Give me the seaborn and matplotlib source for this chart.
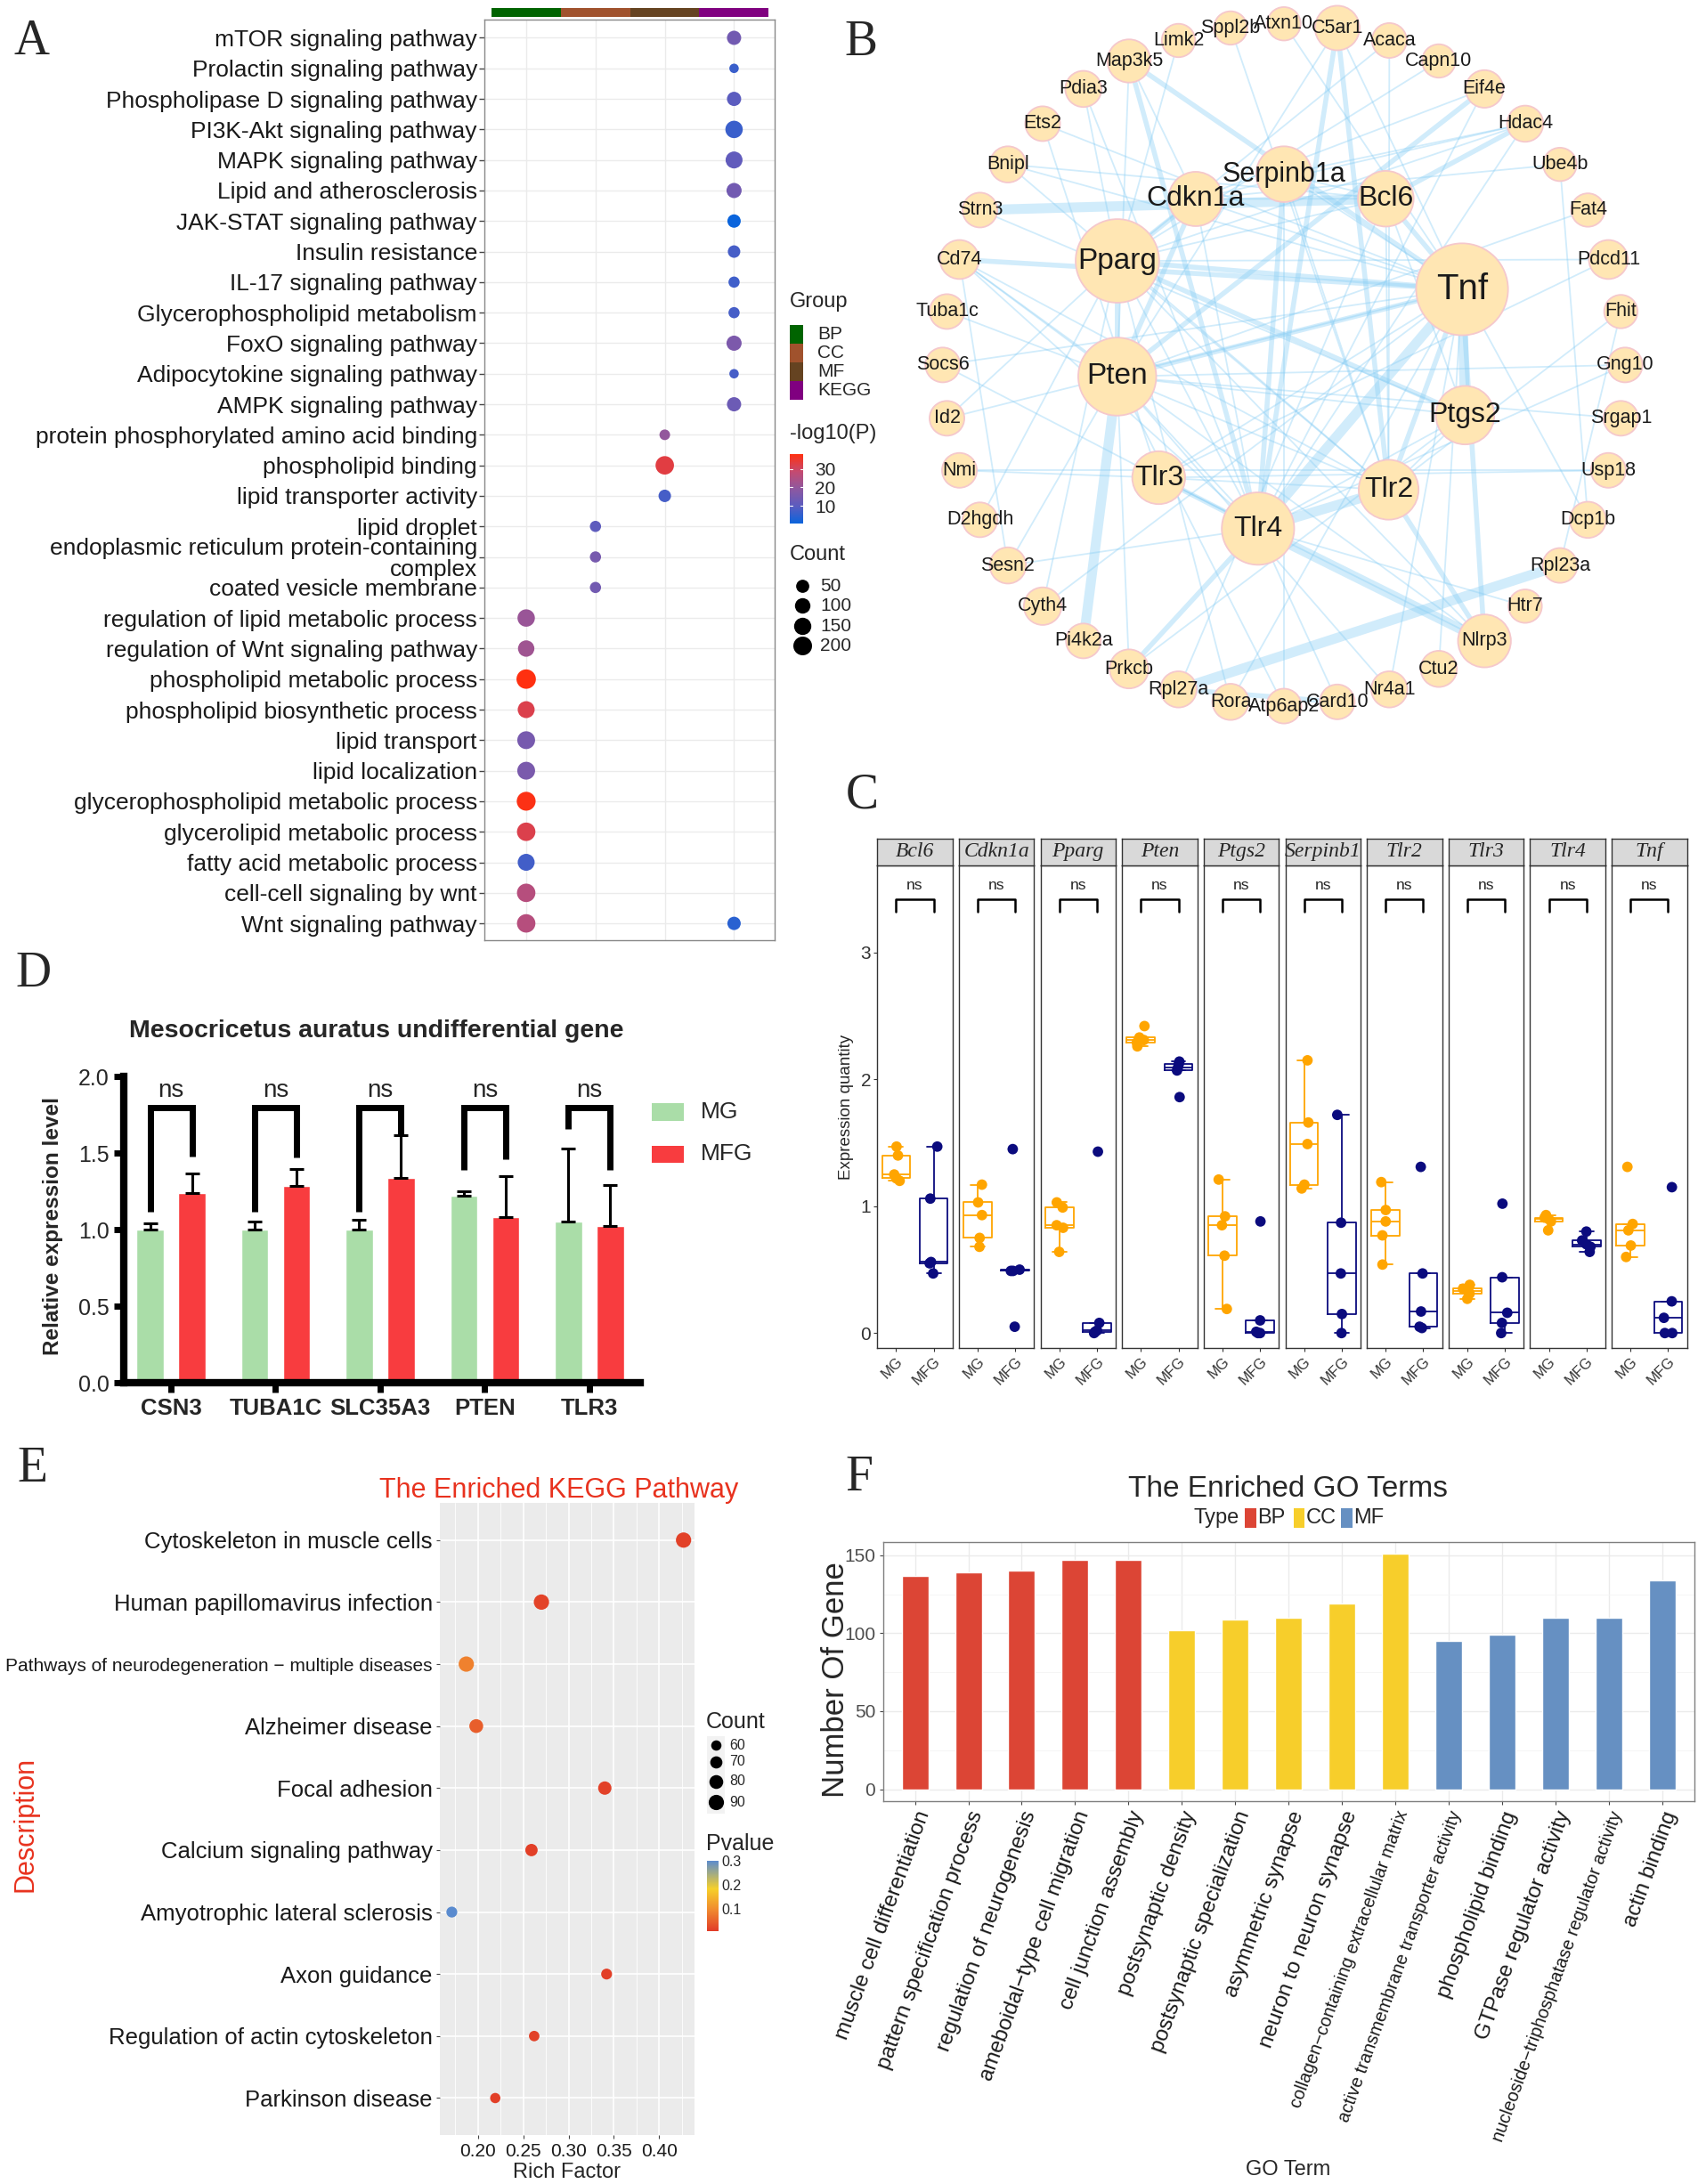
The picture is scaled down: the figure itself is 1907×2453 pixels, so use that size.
import numpy as np
import pandas as pd
import matplotlib
matplotlib.use("Agg")
import matplotlib.pyplot as plt
import seaborn as sns
from matplotlib.colors import LinearSegmentedColormap, Normalize
from matplotlib.patches import Rectangle, Circle
from matplotlib.cm import ScalarMappable

sns.set_theme(style="ticks")
plt.rcParams["font.family"] = ["Liberation Sans", "DejaVu Sans"]
SERIF = ["Liberation Serif", "DejaVu Serif"]

# ---------------- DATA ----------------
# Panel A : enrichment dot plot
a_groups = ["BP", "CC", "MF", "KEGG"]
a_group_colors = ["#006400", "#A0522D", "#654321", "#800080"]
a_terms = [
    "mTOR signaling pathway", "Prolactin signaling pathway", "Phospholipase D signaling pathway",
    "PI3K-Akt signaling pathway", "MAPK signaling pathway", "Lipid and atherosclerosis",
    "JAK-STAT signaling pathway", "Insulin resistance", "IL-17 signaling pathway",
    "Glycerophospholipid metabolism", "FoxO signaling pathway", "Adipocytokine signaling pathway",
    "AMPK signaling pathway",
    "protein phosphorylated amino acid binding", "phospholipid binding", "lipid transporter activity",
    "lipid droplet", "endoplasmic reticulum protein-containing\ncomplex", "coated vesicle membrane",
    "regulation of lipid metabolic process", "regulation of Wnt signaling pathway",
    "phospholipid metabolic process", "phospholipid biosynthetic process", "lipid transport",
    "lipid localization", "glycerophospholipid metabolic process", "glycerolipid metabolic process",
    "fatty acid metabolic process", "cell-cell signaling by wnt", "Wnt signaling pathway",
    "Wnt signaling pathway",
]
a_group = ["KEGG"] * 13 + ["MF"] * 3 + ["CC"] * 3 + ["BP"] * 11 + ["KEGG"]
a_logp = [14, 6, 10, 6, 11, 14, 0.3, 7.5, 6.5, 7.5, 16, 7.5, 13,
          20, 33, 7.5,
          10.5, 15, 14,
          21, 22, 38, 32, 15, 15.5, 37.5, 32, 7, 26, 26,
          4]
a_count = [71, 12, 71, 154, 140, 91, 54, 40, 24, 24, 91, 12, 71,
           19, 190, 40,
           24, 24, 24,
           154, 124, 226, 140, 168, 168, 206, 190, 140, 190, 190,
           54]
a_count_legend = [50, 100, 150, 200]
a_logp_ticks = [10, 20, 30]

# Panel B : PPI network
b_outer = ["Atxn10", "C5ar1", "Acaca", "Capn10", "Eif4e", "Hdac4", "Ube4b", "Fat4", "Pdcd11",
           "Fhit", "Gng10", "Srgap1", "Usp18", "Dcp1b", "Rpl23a", "Htr7", "Nlrp3", "Ctu2",
           "Nr4a1", "Card10", "Atp6ap2", "Rora", "Rpl27a", "Prkcb", "Pi4k2a", "Cyth4", "Sesn2",
           "D2hgdh", "Nmi", "Id2", "Socs6", "Tuba1c", "Cd74", "Strn3", "Bnipl", "Ets2", "Pdia3",
           "Map3k5", "Limk2", "Sppl2b"]
b_outer_size = [12, 16, 12.5, 12, 13.5, 13, 12, 12, 14, 12, 12.5, 12.5, 12.5, 13, 12.5, 12,
                19, 13, 13, 12.5, 12.5, 13, 13, 14, 12.5, 13.5, 13, 12.5, 12.5, 12.5, 12.5, 12.5,
                14, 12.5, 13, 12.5, 13, 15.5, 12, 12]
b_hubs = ["Serpinb1a", "Cdkn1a", "Bcl6", "Pparg", "Tnf", "Pten", "Ptgs2", "Tlr3", "Tlr2", "Tlr4"]
b_hub_size = [20, 19.5, 20, 30, 33, 28, 21, 19, 21.5, 26]
b_hub_font = [22, 23, 23, 24, 29, 24, 23, 23, 23, 23]
b_edges = [
    ("Tnf", "Pparg", 2), ("Tnf", "Pten", 2), ("Tnf", "Tlr4", 3), ("Tnf", "Tlr2", 2), ("Tnf", "Ptgs2", 3),
    ("Tnf", "Bcl6", 2), ("Tnf", "Cdkn1a", 1), ("Tnf", "Tlr3", 1), ("Tnf", "Serpinb1a", 1),
    ("Pparg", "Pten", 2), ("Pparg", "Ptgs2", 2), ("Pparg", "Tlr4", 1), ("Pparg", "Cdkn1a", 2),
    ("Pparg", "Bcl6", 1), ("Pparg", "Tlr2", 1), ("Pten", "Cdkn1a", 2), ("Pten", "Tlr4", 1),
    ("Pten", "Ptgs2", 1), ("Pten", "Tlr2", 1), ("Tlr4", "Tlr2", 3), ("Tlr4", "Tlr3", 2),
    ("Tlr2", "Tlr3", 1), ("Tlr4", "Ptgs2", 1), ("Tlr2", "Ptgs2", 1), ("Cdkn1a", "Bcl6", 1),
    ("Serpinb1a", "Bcl6", 1), ("Serpinb1a", "Tlr4", 2), ("Serpinb1a", "Tlr2", 1), ("Cdkn1a", "Tlr4", 1),
    ("Bcl6", "Tlr2", 1), ("Bcl6", "Ptgs2", 1),
    ("Map3k5", "Tlr4", 2), ("Map3k5", "Pten", 1), ("Map3k5", "Tnf", 2), ("Map3k5", "Cdkn1a", 1),
    ("C5ar1", "Tlr4", 2), ("C5ar1", "Tlr2", 2), ("C5ar1", "Tnf", 1), ("C5ar1", "Pten", 1),
    ("Atxn10", "Tnf", 1), ("Sppl2b", "Tlr2", 1), ("Limk2", "Pparg", 1), ("Acaca", "Pparg", 1),
    ("Acaca", "Tlr2", 1), ("Capn10", "Pparg", 1), ("Eif4e", "Pten", 2), ("Eif4e", "Cdkn1a", 1),
    ("Eif4e", "Tlr4", 1), ("Hdac4", "Pparg", 1), ("Hdac4", "Bcl6", 2), ("Hdac4", "Cdkn1a", 1),
    ("Hdac4", "Serpinb1a", 1), ("Hdac4", "Tlr4", 1), ("Ube4b", "Cdkn1a", 1), ("Ube4b", "Dcp1b", 1),
    ("Fat4", "Pten", 1), ("Pdcd11", "Pparg", 1), ("Pdcd11", "Tlr3", 1), ("Fhit", "Tlr2", 1),
    ("Fhit", "Rpl23a", 1), ("Gng10", "Tlr4", 1), ("Gng10", "Pten", 1), ("Srgap1", "Pten", 1),
    ("Usp18", "Nmi", 1), ("Usp18", "Tlr3", 1), ("Dcp1b", "Tnf", 1), ("Rpl23a", "Rpl27a", 3),
    ("Htr7", "Tlr4", 1), ("Nlrp3", "Tlr4", 3), ("Nlrp3", "Tlr2", 2), ("Nlrp3", "Tnf", 2),
    ("Nlrp3", "Pparg", 1), ("Nlrp3", "Tlr3", 1), ("Nlrp3", "Cd74", 1), ("Ctu2", "Tnf", 1),
    ("Nr4a1", "Tnf", 1), ("Nr4a1", "Pten", 1), ("Card10", "Tlr4", 1), ("Card10", "Rpl27a", 2),
    ("Atp6ap2", "Serpinb1a", 1), ("Atp6ap2", "Pten", 1), ("Rora", "Tnf", 1), ("Rora", "Pparg", 1),
    ("Rpl27a", "Bcl6", 1), ("Prkcb", "Tlr4", 2), ("Prkcb", "Pten", 1), ("Prkcb", "Ptgs2", 1),
    ("Pi4k2a", "Pten", 3), ("Cyth4", "Pparg", 1), ("Cyth4", "Tnf", 1), ("Sesn2", "Pten", 1),
    ("Sesn2", "Cd74", 1), ("Sesn2", "Tlr4", 1), ("D2hgdh", "Pparg", 1), ("Nmi", "Tlr3", 1),
    ("Id2", "Pparg", 1), ("Id2", "Tnf", 1), ("Socs6", "Tnf", 1), ("Socs6", "Tlr4", 1),
    ("Tuba1c", "Pten", 1), ("Cd74", "Tnf", 2), ("Cd74", "Pten", 1), ("Cd74", "Tlr4", 1),
    ("Cd74", "Tlr2", 1), ("Strn3", "Bcl6", 3), ("Strn3", "Ptgs2", 1), ("Bnipl", "Tnf", 1),
    ("Bnipl", "Bcl6", 1), ("Bnipl", "Tlr2", 1), ("Ets2", "Tlr3", 1), ("Ets2", "Tnf", 1),
    ("Pdia3", "Tlr4", 1), ("Pdia3", "Pparg", 1),
]

# Panel C : expression boxplots
c_genes = ["Bcl6", "Cdkn1a", "Pparg", "Pten", "Ptgs2", "Serpinb1", "Tlr2", "Tlr3", "Tlr4", "Tnf"]
c_groups = ["MG", "MFG"]
c_mg = [[1.47, 1.40, 1.25, 1.22, 1.20],
        [1.17, 1.03, 0.93, 0.75, 0.68],
        [1.03, 0.99, 0.85, 0.83, 0.64],
        [2.42, 2.33, 2.31, 2.29, 2.26],
        [1.21, 0.92, 0.85, 0.61, 0.19],
        [2.15, 1.66, 1.49, 1.17, 1.14],
        [1.19, 0.97, 0.88, 0.77, 0.54],
        [0.38, 0.35, 0.33, 0.31, 0.27],
        [0.93, 0.91, 0.90, 0.88, 0.81],
        [1.31, 0.86, 0.81, 0.69, 0.60]]
c_mfg = [[1.47, 1.06, 0.56, 0.55, 0.47],
         [1.45, 0.50, 0.49, 0.49, 0.05],
         [1.43, 0.08, 0.02, 0.01, 0.00],
         [2.14, 2.12, 2.09, 2.07, 1.86],
         [0.88, 0.10, 0.01, 0.00, 0.00],
         [1.72, 0.87, 0.47, 0.15, 0.00],
         [1.31, 0.47, 0.17, 0.05, 0.04],
         [1.02, 0.44, 0.16, 0.08, 0.00],
         [0.80, 0.73, 0.70, 0.68, 0.64],
         [1.15, 0.25, 0.12, 0.00, 0.00]]
c_yticks = [0, 1, 2, 3]

# Panel D : qPCR bars
d_genes = ["CSN3", "TUBA1C", "SLC35A3", "PTEN", "TLR3"]
d_mg = [1.00, 1.00, 1.00, 1.225, 1.055]
d_mg_sd = [0.04, 0.055, 0.065, 0.025, 0.475]
d_mfg = [1.24, 1.285, 1.34, 1.085, 1.025]
d_mfg_sd = [0.13, 0.115, 0.28, 0.265, 0.27]
d_leg_mg = [1.12, 1.12, 1.12, 1.39, 1.66]
d_leg_mfg = [1.48, 1.47, 1.62, 1.46, 1.39]
d_bracket_top = 1.80
d_yticks = [0.0, 0.5, 1.0, 1.5, 2.0]

# Panel E : KEGG dot plot
e_terms = ["Cytoskeleton in muscle cells", "Human papillomavirus infection",
           "Pathways of neurodegeneration \u2212 multiple diseases", "Alzheimer disease",
           "Focal adhesion", "Calcium signaling pathway", "Amyotrophic lateral sclerosis",
           "Axon guidance", "Regulation of actin cytoskeleton", "Parkinson disease"]
e_rich = [0.427, 0.270, 0.187, 0.198, 0.340, 0.259, 0.171, 0.342, 0.262, 0.219]
e_count = [97, 95, 90, 80, 77, 71, 63, 63, 61, 55]
e_pvalue = [0.012, 0.015, 0.085, 0.045, 0.012, 0.010, 0.300, 0.010, 0.012, 0.010]
e_count_legend = [60, 70, 80, 90]
e_xticks = [0.20, 0.25, 0.30, 0.35, 0.40]

# Panel F : GO bar chart
f_terms = ["muscle cell differentiation", "pattern specification process", "regulation of neurogenesis",
           "ameboidal\u2212type cell migration", "cell junction assembly", "postsynaptic density",
           "postsynaptic specialization", "asymmetric synapse", "neuron to neuron synapse",
           "collagen\u2212containing extracellular matrix", "active transmembrane transporter activity",
           "phospholipid binding", "GTPase regulator activity",
           "nucleoside\u2212triphosphatase regulator activity", "actin binding"]
f_type = ["BP"] * 5 + ["CC"] * 5 + ["MF"] * 5
f_count = [137, 139, 140, 147, 147, 102, 109, 110, 119, 151, 95, 99, 110, 110, 134]
f_colors = {"BP": "#DC4535", "CC": "#F7CE2B", "MF": "#6690C2"}

# ---------------- FIGURE ----------------
W, H = 1220.0, 1568.0
fig = plt.figure(figsize=(19.08, 24.53), dpi=100)
fig.patch.set_facecolor("white")


def ax_at(x0, y0, x1, y1):
    return fig.add_axes([x0 / W, 1 - y1 / H, (x1 - x0) / W, (y1 - y0) / H])


def ftext(x, y, s, **kw):
    return fig.text(x / W, 1 - y / H, s, **kw)


def frect(x0, y0, x1, y1, **kw):
    fig.add_artist(Rectangle((x0 / W, 1 - y1 / H), (x1 - x0) / W, (y1 - y0) / H,
                             transform=fig.transFigure, **kw))


for L, x, y in [("A", 23, 30), ("B", 618, 31), ("C", 619, 571), ("D", 24, 699), ("E", 23, 1055), ("F", 617, 1061)]:
    ftext(x, y, L, family=SERIF, fontsize=40, ha="center", va="center")

# ---------- Panel A ----------
cmapA = LinearSegmentedColormap.from_list("a", ["#0a64dc", "#5a5cc0", "#8e58a0", "#c54a70", "#ff3010"])
normA = Normalize(0.3, 38)


def a_size(c):
    d = 9.4 + 12.5 * np.sqrt(max(c - 10, 0) / 220.0)
    return (d * 0.72) ** 2


dfA = pd.DataFrame({"term": a_terms, "group": a_group, "logp": a_logp, "count": a_count})
rowsA = list(pd.unique(dfA["term"]))
dfA["row"] = dfA["term"].map({t: i for i, t in enumerate(rowsA)})
dfA["col"] = dfA["group"].map({g: i for i, g in enumerate(a_groups)})
axA = ax_at(348, 14, 556, 675)
for i in range(len(rowsA)):
    axA.axhline(i, color="#EBEBEB", lw=1.0, zorder=0)
for j in range(4):
    axA.axvline(j, color="#EBEBEB", lw=1.0, zorder=0)
sns.scatterplot(data=dfA, x="col", y="row", hue="logp", size="count", palette=cmapA, hue_norm=normA,
                sizes={c: a_size(c) for c in set(a_count)}, legend=False, linewidth=0, ax=axA, zorder=3)
axA.set_xlim(-0.6, 3.58)
axA.set_ylim(29.55, -0.6)
axA.set_xticks([])
axA.set_yticks(range(len(rowsA)))
axA.set_yticklabels(rowsA, fontsize=19, color="#1A1A1A")
for lab in axA.get_yticklabels():
    lab.set_linespacing(1.0)
axA.tick_params(axis="y", length=4, width=1, color="#444444", pad=2)
axA.set_xlabel("")
axA.set_ylabel("")
for s in axA.spines.values():
    s.set_color("#888888")
    s.set_linewidth(1.0)

axS = ax_at(348, 6, 556, 12)
axS.bar(range(4), [1] * 4, width=1.0, color=a_group_colors, linewidth=0)
axS.set_xlim(-0.6, 3.58)
axS.set_ylim(0, 1)
axS.axis("off")

ftext(567, 217, "Group", fontsize=17, va="center")
for k, (g, col) in enumerate(zip(a_groups, a_group_colors)):
    yc = 240 + 13.5 * k
    frect(567, yc - 6.75, 577, yc + 6.75, color=col, lw=0)
    ftext(587, yc, g, fontsize=15, va="center")
ftext(567, 311, "-log10(P)", fontsize=17, va="center")
caxA = ax_at(567, 326, 577, 376)
cbA = fig.colorbar(ScalarMappable(norm=normA, cmap=cmapA), cax=caxA, ticks=a_logp_ticks)
cbA.outline.set_visible(False)
caxA.tick_params(length=0, labelsize=15, pad=9)
for v in a_logp_ticks:
    caxA.plot([0, 0.2], [v, v], color="white", lw=0.8, transform=caxA.get_yaxis_transform())
    caxA.plot([0.8, 1.0], [v, v], color="white", lw=0.8, transform=caxA.get_yaxis_transform())
ftext(567, 398.5, "Count", fontsize=17, va="center")
axAl = ax_at(560, 410, 640, 472)
axAl.set_xlim(560, 640)
axAl.set_ylim(472, 410)
axAl.axis("off")
for c, yy in zip(a_count_legend, [420.7, 434.8, 449.6, 463.5]):
    axAl.scatter([576], [yy], s=a_size(c), color="black", linewidth=0)
    ftext(589, yy, str(c), fontsize=15, va="center")

# ---------- Panel B ----------
axB = ax_at(640, 0, 1210, 525)
axB.set_xlim(640, 1210)
axB.set_ylim(525, 0)
axB.set_aspect("equal")
axB.axis("off")
cx, cy, R = 922.0, 262.0, 245.0
hub_angle = [90, 118, 58.5, 148, 23, 184, -15.5, 222, 310, 261]
hub_rad = [137, 135, 140, 141, 139, 120, 135, 121, 117, 119]
pos, rad, fsz = {}, {}, {}
for k, n in enumerate(b_outer):
    a = np.deg2rad(90 - 9 * k)
    pos[n] = (cx + R * np.cos(a), cy - R * np.sin(a))
    rad[n] = b_outer_size[k]
    fsz[n] = 15.5
for n, a, r, s, f in zip(b_hubs, hub_angle, hub_rad, b_hub_size, b_hub_font):
    pos[n] = (cx + r * np.cos(np.deg2rad(a)), cy - r * np.sin(np.deg2rad(a)))
    rad[n] = s
    fsz[n] = f
ew = {1: 1.3, 2: 4.0, 3: 8.0}
for u, v, w in b_edges:
    axB.plot([pos[u][0], pos[v][0]], [pos[u][1], pos[v][1]], color="#87CDF5", alpha=0.38,
             lw=ew[w], solid_capstyle="butt", zorder=1)
for n in list(b_outer) + list(b_hubs):
    axB.add_patch(Circle(pos[n], rad[n], facecolor="#FFE6B3", edgecolor="#F5C8CC", lw=1.3, zorder=2))
    axB.text(pos[n][0], pos[n][1], n, fontsize=fsz[n], ha="center", va="center", color="#1A1A1A", zorder=3)

# ---------- Panel C ----------
pal_c = {"MG": "#FFA500", "MFG": "#0B0B7E"}
for i, g in enumerate(c_genes):
    x0 = 630 + i * 58.6
    ax = ax_at(x0, 621, x0 + 54, 968)
    dfc = pd.DataFrame({"grp": ["MG"] * len(c_mg[i]) + ["MFG"] * len(c_mfg[i]),
                        "val": c_mg[i] + c_mfg[i]})
    sns.boxplot(data=dfc, x="grp", y="val", hue="grp", order=c_groups, hue_order=c_groups,
                palette=pal_c, fill=False, width=0.75, showfliers=False, linewidth=1.3,
                saturation=1, legend=False, ax=ax)
    np.random.seed(i + 3)
    sns.stripplot(data=dfc, x="grp", y="val", hue="grp", order=c_groups, hue_order=c_groups,
                  palette=pal_c, jitter=0.12, size=8.5, linewidth=0, legend=False, ax=ax, zorder=4)
    ax.set_xlim(-0.5, 1.5)
    ax.set_ylim(-0.12, 3.69)
    ax.plot([0, 0, 1, 1], [3.32, 3.42, 3.42, 3.32], color="black", lw=1.8)
    ax.text(0.5, 3.53, "ns", ha="center", va="center", fontsize=12.5)
    ax.set_xlabel("")
    ax.set_ylabel("")
    ax.set_xticks([0, 1])
    ax.set_xticklabels(c_groups, rotation=45, ha="right", rotation_mode="anchor", fontsize=12, color="#333333")
    ax.tick_params(axis="x", length=3, width=0.8, pad=2, color="#333333")
    if i == 0:
        ax.set_yticks(c_yticks)
        ax.set_yticklabels([str(t) for t in c_yticks], fontsize=15, color="#333333")
        ax.tick_params(axis="y", length=3, width=0.8, pad=2, color="#333333")
    else:
        ax.set_yticks([])
    for s in ax.spines.values():
        s.set_color("#333333")
        s.set_linewidth(1.0)
    axs = ax_at(x0, 602, x0 + 54, 621)
    axs.set_facecolor("#D9D9D9")
    axs.set_xticks([])
    axs.set_yticks([])
    for s in axs.spines.values():
        s.set_color("#333333")
        s.set_linewidth(1.0)
    axs.text(0.5, 0.5, g, transform=axs.transAxes, ha="center", va="center", fontsize=17,
             style="italic", family=SERIF)
ftext(608, 795, "Expression quantity", rotation=90, fontsize=13.5, ha="center", va="center")

# ---------- Panel D ----------
axD = ax_at(89, 773, 460, 993)
dfD = pd.DataFrame({"gene": d_genes * 2, "group": ["MG"] * 5 + ["MFG"] * 5, "val": d_mg + d_mfg})
sns.barplot(data=dfD, x="gene", y="val", hue="group", order=d_genes, hue_order=["MG", "MFG"],
            palette={"MG": "#AADDA8", "MFG": "#F83C3F"}, width=0.8, gap=0.35, errorbar=None,
            saturation=1, legend=False, ax=axD)
xs = np.arange(len(d_genes))
axD.errorbar(xs - 0.2, d_mg, yerr=[np.zeros(5), d_mg_sd], fmt="none", ecolor="black",
             elinewidth=2.2, capsize=6, capthick=2.2)
axD.errorbar(xs + 0.2, d_mfg, yerr=[np.zeros(5), d_mfg_sd], fmt="none", ecolor="black",
             elinewidth=2.2, capsize=6, capthick=2.2)
for i in range(len(d_genes)):
    axD.plot([i - 0.2, i - 0.2, i + 0.2, i + 0.2], [d_leg_mg[i], d_bracket_top, d_bracket_top, d_leg_mfg[i]],
             color="black", lw=5, solid_joinstyle="miter", solid_capstyle="butt")
    axD.text(i, 1.91, "ns", ha="center", va="center", fontsize=20)
axD.set_xlim(-0.45, 4.49)
axD.set_ylim(0, 2.0)
axD.set_yticks(d_yticks)
axD.set_yticklabels(["%.1f" % t for t in d_yticks], fontsize=18)
axD.set_xticks(xs)
axD.set_xticklabels(d_genes, fontsize=18.5, fontweight="bold")
axD.tick_params(axis="both", width=5, length=8, color="black", pad=4)
axD.set_xlabel("")
axD.set_ylabel("")
sns.despine(ax=axD)
for s in ["left", "bottom"]:
    axD.spines[s].set_linewidth(6)
    axD.spines[s].set_color("black")
ftext(270, 740, "Mesocricetus auratus undifferential gene", fontsize=20.5, fontweight="bold", ha="center", va="center")
ftext(38, 880, "Relative expression level", fontsize=17.5, fontweight="bold", rotation=90, ha="center", va="center")
frect(468, 792, 491, 805, color="#AADDA8", lw=0)
frect(468, 822.5, 491, 835, color="#F83C3F", lw=0)
ftext(503, 798.5, "MG", fontsize=19, va="center")
ftext(503, 828.6, "MFG", fontsize=19, va="center")

# ---------- Panel E ----------
cmapE = LinearSegmentedColormap.from_list("e", [(0, "#E13B27"), (0.3, "#F0892F"), (0.6, "#F6D02A"), (1.0, "#5A8BCF")])
normE = Normalize(0.005, 0.30)
axE = ax_at(316, 1079, 499, 1533)
axE.set_facecolor("#EBEBEB")
dfE = pd.DataFrame({"term": e_terms, "rich": e_rich, "count": e_count, "p": e_pvalue})
dfE["row"] = np.arange(len(e_terms))
for t in e_xticks:
    axE.axvline(t, color="white", lw=1.2, zorder=0)
for t in np.arange(0.175, 0.44, 0.05):
    axE.axvline(t, color="white", lw=0.6, zorder=0)
for r in range(len(e_terms)):
    axE.axhline(r, color="white", lw=1.2, zorder=0)
sns.scatterplot(data=dfE, x="rich", y="row", hue="p", size="count", palette=cmapE, hue_norm=normE,
                sizes=(69, 153), size_norm=(60, 90), legend=False, linewidth=0, ax=axE, zorder=3)
axE.set_xlim(0.158, 0.4395)
axE.set_ylim(len(e_terms) - 0.4, -0.6)
axE.set_yticks(range(len(e_terms)))
axE.set_yticklabels(e_terms, fontsize=18.5, color="#1A1A1A")
for lab in axE.get_yticklabels():
    if len(lab.get_text()) > 40:
        lab.set_fontsize(15)
axE.set_xticks(e_xticks)
axE.set_xticklabels(["%.2f" % t for t in e_xticks], fontsize=15, color="#1A1A1A")
axE.tick_params(axis="both", length=3, width=0.8, color="#444444", pad=3)
axE.set_xlabel("")
axE.set_ylabel("")
for s in axE.spines.values():
    s.set_visible(False)
ftext(401, 1070, "The Enriched KEGG Pathway", fontsize=22, color="#E8321E", ha="center", va="center")
ftext(18, 1310, "Description", fontsize=22, color="#E8321E", rotation=90, ha="center", va="center")
ftext(407, 1560, "Rich Factor", fontsize=17, ha="center", va="center")
ftext(507, 1236, "Count", fontsize=18, va="center")
axEl = ax_at(500, 1245, 545, 1305)
axEl.set_xlim(500, 545)
axEl.set_ylim(1305, 1245)
axEl.axis("off")
axEl.add_patch(Rectangle((507.6, 1246.7), 12.8, 55.3, color="#F2F2F2", lw=0, zorder=0))
for c, yy in zip(e_count_legend, [1253, 1265, 1279, 1294]):
    axEl.scatter([514], [yy], s=69 + (c - 60) / 30.0 * 84, color="black", linewidth=0, zorder=2)
    ftext(524, yy, str(c), fontsize=11.5, va="center")
ftext(507, 1324, "Pvalue", fontsize=18, va="center")
caxE = ax_at(507.6, 1335.7, 515.7, 1386.6)
cbE = fig.colorbar(ScalarMappable(norm=normE, cmap=cmapE), cax=caxE, ticks=[0.1, 0.2, 0.3])
cbE.outline.set_visible(False)
caxE.set_yticklabels(["0.1", "0.2", "0.3"])
caxE.tick_params(length=0, labelsize=11.5, pad=3)

# ---------- Panel F ----------
axF = ax_at(634, 1107, 1217, 1293)
dfF = pd.DataFrame({"term": f_terms, "type": f_type, "n": f_count})
axF.set_axisbelow(True)
for t in range(len(f_terms)):
    axF.axvline(t, color="#EBEBEB", lw=1.0, zorder=0)
for t in [0, 50, 100, 150]:
    axF.axhline(t, color="#EBEBEB", lw=1.0, zorder=0)
for t in [25, 75, 125]:
    axF.axhline(t, color="#F4F4F4", lw=0.6, zorder=0)
sns.barplot(data=dfF, x="term", y="n", hue="type", order=f_terms, hue_order=["BP", "CC", "MF"],
            palette=f_colors, dodge=False, width=0.5, saturation=1, legend=False, ax=axF, zorder=2)
axF.set_xlim(-0.6, 14.6)
axF.set_ylim(-7.55, 158.6)
axF.set_yticks([0, 50, 100, 150])
axF.set_yticklabels(["0", "50", "100", "150"], fontsize=15, color="#4D4D4D")
axF.set_xticks(range(len(f_terms)))
axF.set_xticklabels(f_terms, rotation=70, ha="right", rotation_mode="anchor", color="#1A1A1A")
for lab in axF.get_xticklabels():
    lab.set_fontsize(14.5 if len(lab.get_text()) > 36 else 17.5)
axF.tick_params(axis="both", length=3, width=0.8, color="#444444", pad=3)
axF.set_xlabel("")
axF.set_ylabel("")
for s in axF.spines.values():
    s.set_color("#7F7F7F")
    s.set_linewidth(1.0)
ftext(925, 1069, "The Enriched GO Terms", fontsize=24, ha="center", va="center")
ftext(857, 1090, "Type", fontsize=17, va="center")
for lab, bx in zip(["BP", "CC", "MF"], [894, 929, 963]):
    frect(bx, 1083, bx + 8, 1097, color=f_colors[lab], lw=0)
    ftext(bx + 9, 1090, lab, fontsize=17, va="center")
ftext(600, 1206, "Number Of Gene", fontsize=25, rotation=90, ha="center", va="center")
ftext(925, 1558, "GO Term", fontsize=17, ha="center", va="center")

fig.savefig("out.png", dpi=100, facecolor="white")
